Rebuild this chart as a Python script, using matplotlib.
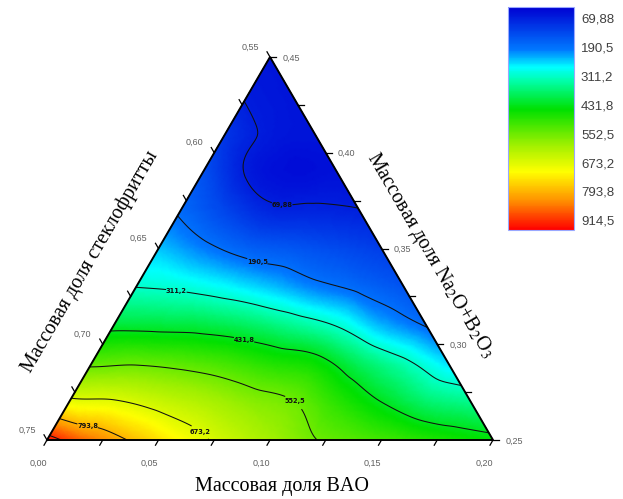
import numpy as np
import matplotlib
matplotlib.use("Agg")
import matplotlib.pyplot as plt
import matplotlib.tri as mtri
from matplotlib.cm import ScalarMappable
from matplotlib.colors import LinearSegmentedColormap, Normalize

plt.rcParams["mathtext.fontset"] = "stix"

# values on a triangular grid:
# one list per BAO fraction, going up in Na2O+B2O3 fraction
bao_steps = [0.00, 0.02, 0.04, 0.06, 0.08, 0.10, 0.12, 0.14, 0.16, 0.18, 0.20]
na_steps = [0.25, 0.27, 0.29, 0.31, 0.33, 0.35, 0.37, 0.39, 0.41, 0.43, 0.45]
value_cols = [
    [945, 690, 540, 413, 310, 244, 182, 143, 103, 66, 55],
    [855, 680, 547, 410, 300, 205, 127, 65, 62, 55],
    [780, 648, 535, 404, 277, 168, 80, 45, 55],
    [712, 618, 515, 384, 245, 152, 78, 50],
    [653, 582, 483, 349, 206, 134, 72],
    [605, 555, 459, 307, 178, 115],
    [555, 490, 387, 235, 148],
    [527, 431, 326, 186],
    [500, 376, 260],
    [473, 353],
    [450],
]

levels = [69.88, 190.5, 311.2, 431.8, 552.5, 673.2, 793.8, 914.5]
level_text = ["69,88", "190,5", "311,2", "431,8", "552,5", "673,2", "793,8", "914,5"]

# where the contour labels sit (BAO, Na2O+B2O3)
label_spots = [(0.043, 0.375), (0.048, 0.342), (0.019, 0.328), (0.062, 0.303),
               (0.101, 0.271), (0.067, 0.256), (0.015, 0.256)]

bao_ticks = [0.00, 0.05, 0.10, 0.15, 0.20]
na_ticks = [0.45, 0.40, 0.35, 0.30, 0.25]
frit_ticks = [0.55, 0.60, 0.65, 0.70, 0.75]

W, H = 623, 499
# triangle corners in pixels: left, right, bottom, top
X0, X1, YB, YT = 47, 493, 440, 57


def to_xy(bao, na):
    """BAO / Na2O+B2O3 fractions -> axes coords of the triangle."""
    u = np.asarray(bao) / 0.20
    v = (np.asarray(na) - 0.25) / 0.20
    return u + 0.5 * v, v


cmap = LinearSegmentedColormap.from_list("rb", [
    (0.00, "#0000d2"), (0.19, "#0078ff"), (0.27, "#00ffff"), (0.33, "#00ffaa"),
    (0.46, "#00e000"), (0.62, "#a0f000"), (0.74, "#ffff00"), (0.87, "#ff9000"),
    (1.00, "#ff0000")])
norm = Normalize(vmin=24, vmax=955)

pb, pn, pz = [], [], []
for b, col in zip(bao_steps, value_cols):
    for n, z in zip(na_steps, col):
        pb.append(b)
        pn.append(n)
        pz.append(z)
x, y = to_xy(pb, pn)
z = np.array(pz, dtype=float)

tri = mtri.Triangulation(x, y)
interp = mtri.CubicTriInterpolator(tri, z, kind="geom")
tri_f, z_f = mtri.UniformTriRefiner(tri).refine_field(z, triinterpolator=interp, subdiv=4)

fig = plt.figure(figsize=(W / 100, H / 100), dpi=100)
ax = fig.add_axes([X0 / W, (H - YB) / H, (X1 - X0) / W, (YB - YT) / H])
ax.set_xlim(0, 1)
ax.set_ylim(0, 1)
ax.axis("off")

ax.tripcolor(tri_f, z_f, cmap=cmap, norm=norm, shading="gouraud")
cs = ax.tricontour(tri_f, z_f, levels=levels, colors="#111111", linewidths=0.75)
spots = [tuple(np.ravel(to_xy(b, n))) for b, n in label_spots]
lbl = ax.clabel(cs, cs.levels[:7], manual=spots, fontsize=4.8, inline=True,
                inline_spacing=1, fmt=dict(zip(cs.levels, level_text)))
for t in lbl:
    t.set_fontweight("bold")
    t.set_rotation(0)

ax.plot([0, 1, 0.5, 0], [0, 0, 1, 0], color="black", lw=1.4, clip_on=False,
        solid_joinstyle="miter")

# ticks every 0.025 on all three sides
px_x, px_y = 1 / (X1 - X0), 1 / (YB - YT)
tl = 6
tick_kw = dict(color="black", lw=0.9, clip_on=False)
lab_kw = dict(textcoords="offset pixels", fontsize=6.5, color="#606060",
              ha="center", va="center", family="Liberation Sans")

for k in range(9):
    f = 0.025 * k
    bx, by = to_xy(f, 0.25)
    ax.plot([bx, bx - 0.5 * tl * px_x], [by, by - 0.866 * tl * px_y], **tick_kw)
    rx, ry = to_xy(0.20 - f, 0.25 + f)
    ax.plot([rx, rx + tl * px_x], [ry, ry], **tick_kw)
    lx, ly = to_xy(0.0, 0.45 - f)
    ax.plot([lx, lx - 0.5 * tl * px_x], [ly, ly + 0.866 * tl * px_y], **tick_kw)

for b in bao_ticks:
    ax.annotate(f"{b:.2f}".replace(".", ","), to_xy(b, 0.25), xytext=(-9, -23), **lab_kw)
for n in na_ticks:
    ax.annotate(f"{n:.2f}".replace(".", ","), to_xy(0.45 - n, n), xytext=(21, -1), **lab_kw)
for fr in frit_ticks:
    ax.annotate(f"{fr:.2f}".replace(".", ","), to_xy(0.0, 1.0 - fr), xytext=(-20, 10), **lab_kw)

title_kw = dict(family="Liberation Serif", fontsize=14.5, color="black",
                ha="center", va="center")
fig.text(282 / W, 1 - 486 / H, "Массовая доля BAO", **title_kw)
fig.text(90 / W, 1 - 262 / H, "Массовая доля стеклофритты", rotation=59.8, **title_kw)
fig.text(430 / W, 1 - 255 / H, "Массовая доля Na$_2$O+B$_2$O$_3$", rotation=-59.8, **title_kw)

cax = fig.add_axes([508 / W, (H - 230) / H, 66 / W, 223 / H])
cb = fig.colorbar(ScalarMappable(norm=norm, cmap=cmap), cax=cax)
cax.invert_yaxis()
cb.set_ticks(levels)
cb.set_ticklabels(level_text)
cax.tick_params(length=0, labelsize=9.5, labelcolor="#404040", pad=5)
for t in cax.get_yticklabels():
    t.set_family("Liberation Sans")
cb.outline.set_edgecolor("#9aa8ff")
cb.outline.set_linewidth(0.8)

fig.savefig("out.png", dpi=100)
